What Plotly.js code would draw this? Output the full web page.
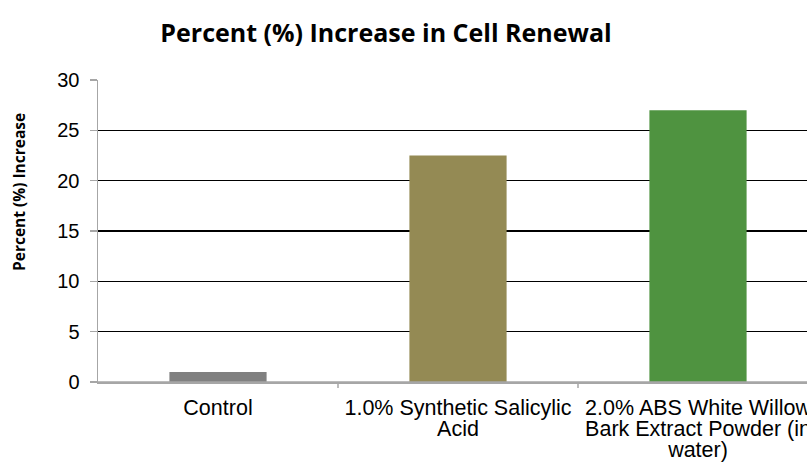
<!DOCTYPE html>
<html>
<head>
<meta charset="utf-8">
<script src="https://cdn.plot.ly/plotly-3.0.1.min.js"></script>
<style>
html,body{margin:0;padding:0;overflow:hidden;background:#fff;}
#chart{width:830px;height:465px;}
</style>
</head>
<body>
<div id="chart"></div>
<script>
const categories = ["Control", "1.0% Synthetic Salicylic<br>Acid", "2.0% ABS White Willow<br>Bark Extract Powder (in<br>water)"];
const values = [1.0, 22.5, 27.0];
const barColors = ["#808080", "#948A54", "#4F9340"];
const yTicks = [0, 5, 10, 15, 20, 25, 30];
const chartTitle = 'Percent (%) Increase in Cell Renewal';
const yTitle = 'Percent (%) Increase';

const trace = {
  type: 'bar',
  x: [0, 1, 2],
  y: values,
  marker: {color: barColors},
  width: 0.405,
  hoverinfo: 'none'
};

const layout = {
  width: 830,
  height: 465,
  margin: {l: 98, r: 12, t: 80, b: 83},
  paper_bgcolor: '#fff',
  plot_bgcolor: '#fff',
  showlegend: false,
  title: {
    text: '<b>' + chartTitle + '</b>',
    font: {family: 'Open Sans, sans-serif', size: 25, color: '#000'},
    x: 386/830, xanchor: 'center', y: 1 - 33/465, yanchor: 'middle'
  },
  xaxis: {
    range: [-0.5, 2.5],
    tickmode: 'array',
    tickvals: [0, 1, 2],
    ticktext: categories,
    ticks: '',
    ticklabelstandoff: 6,
    showgrid: false,
    zeroline: false,
    showline: true,
    linecolor: '#a6a6a6',
    linewidth: 1.5,
    tickfont: {family: 'Liberation Sans, Arial, sans-serif', size: 21.5, color: '#000'},
    fixedrange: true
  },
  yaxis: {
    range: [0, 30],
    tickmode: 'array',
    tickvals: yTicks,
    ticks: 'outside',
    ticklen: 7,
    tickcolor: '#a6a6a6',
    tickwidth: 1.5,
    ticklabelstandoff: 6,
    showgrid: true,
    gridcolor: '#000',
    gridwidth: 1.5,
    zeroline: false,
    showline: true,
    linecolor: '#a6a6a6',
    linewidth: 1.5,
    tickfont: {family: 'Liberation Sans, Arial, sans-serif', size: 20, color: '#000'},
    fixedrange: true
  },
  annotations: [{
    text: '<b>' + yTitle + '</b>',
    xref: 'paper', yref: 'paper',
    x: (19 - 98) / 720, y: (382 - 192) / 302,
    xanchor: 'center', yanchor: 'middle',
    textangle: -90, showarrow: false,
    font: {family: 'Open Sans, sans-serif', size: 15.5, color: '#000'}
  }],
  shapes: [0.5, 1.5, 2.5].map(v => ({
    type: 'line', xref: 'x', yref: 'paper',
    x0: v, x1: v, y0: 0, y1: -0.02,
    line: {color: '#a6a6a6', width: 1.5}
  })).concat([{
    type: 'line', xref: 'paper', yref: 'y', x0: 0, x1: 1, y0: 0, y1: 0,
    line: {color: '#a6a6a6', width: 1.5}, layer: 'above'
  }])
};

Plotly.newPlot('chart', [trace], layout, {displayModeBar: false, staticPlot: true}).then(gd => {
  // tighten line spacing of multi-line category labels (Excel-like)
  gd.querySelectorAll('.xtick text tspan.line').forEach(t => {
    const dy = parseFloat(t.getAttribute('dy') || '0');
    if (dy) t.setAttribute('dy', (dy / 1.3 * 0.97) + 'em');
  });
});
</script>
</body>
</html>
